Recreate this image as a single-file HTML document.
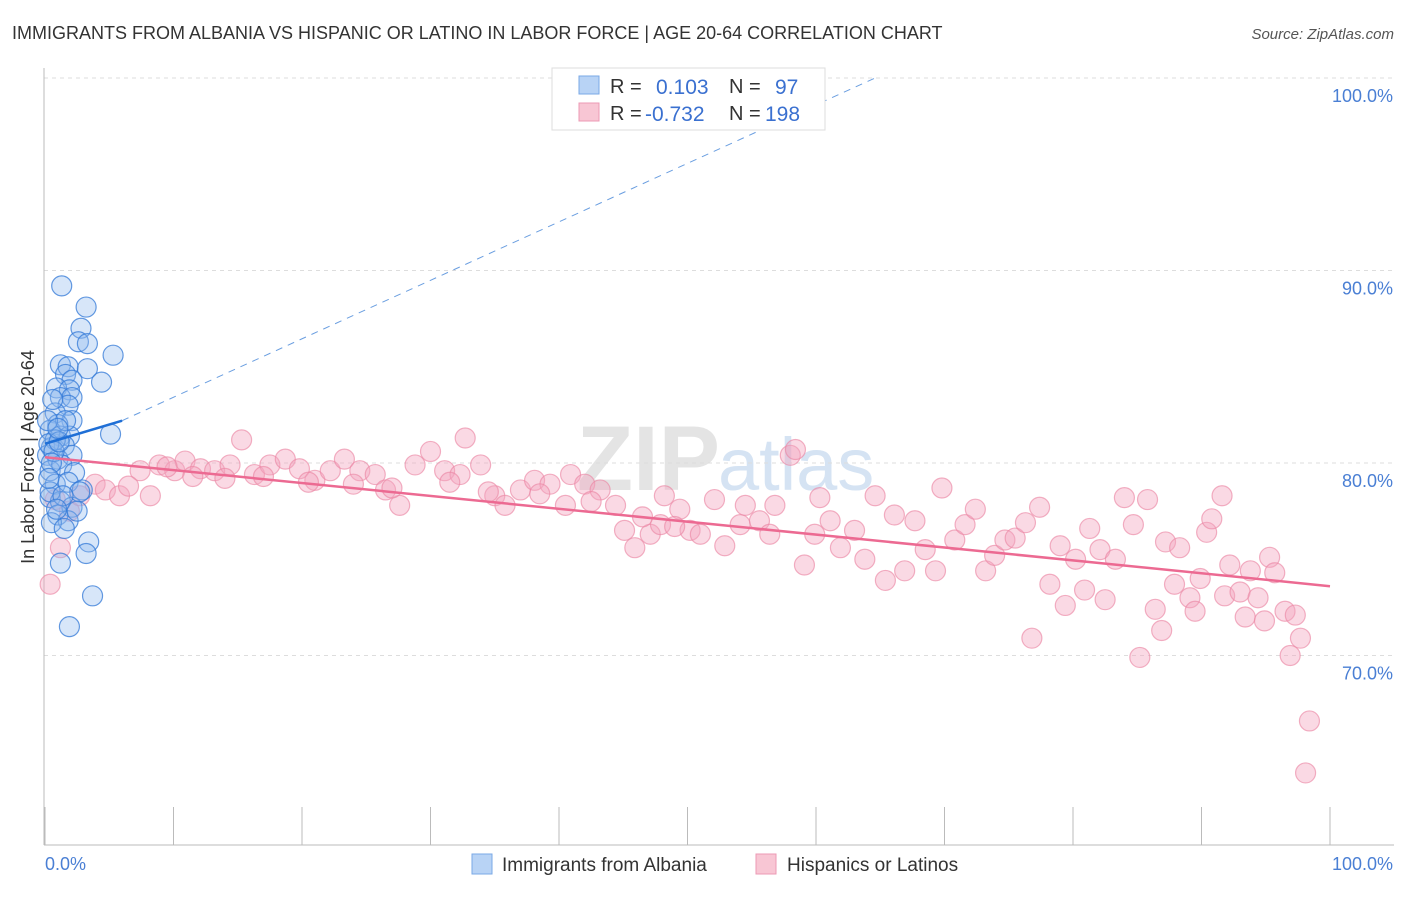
<!DOCTYPE html>
<html><head><meta charset="utf-8"><style>
body{margin:0;background:#fff;font-family:"Liberation Sans",sans-serif}
svg text{font-family:"Liberation Sans",sans-serif}
</style></head><body>
<svg id="c" width="1406" height="892">
<text x="12" y="39" font-size="18" fill="#333">IMMIGRANTS FROM ALBANIA VS HISPANIC OR LATINO IN LABOR FORCE | AGE 20-64 CORRELATION CHART</text>
<text x="1394" y="39" font-size="15" fill="#555" font-style="italic" text-anchor="end">Source: ZipAtlas.com</text>
<text x="720" y="490" font-size="92" fill="#e4e4e4" font-weight="bold" text-anchor="end" font-family="Liberation Serif">ZIP</text>
<text x="718" y="490" font-size="74" fill="#d5e3f3">atlas</text>
<g id="grid"></g><g id="axes"></g><g id="pts"></g><g id="trend"></g>
<text transform="translate(34,457) rotate(-90)" font-size="18" fill="#333" text-anchor="middle">In Labor Force | Age 20-64</text>
<text x="45" y="870" font-size="18" fill="#4a7fd4">0.0%</text>
<text x="1393" y="870" font-size="18" fill="#4a7fd4" text-anchor="end">100.0%</text>
<g>
<rect x="552" y="68" width="273" height="62" fill="#fff" stroke="#ddd"/>
<rect x="579" y="76" width="20" height="18" fill="#b8d3f5" stroke="#7aa8e6"/>
<rect x="579" y="103" width="20" height="18" fill="#f8c6d4" stroke="#ec9ab4"/>
<text x="610" y="93" font-size="20" fill="#333">R =</text><text x="656" y="94" font-size="21" fill="#3a70d0">0.103</text>
<text x="729" y="93" font-size="20" fill="#333">N =</text><text x="775" y="94" font-size="21" fill="#3a70d0">97</text>
<text x="610" y="120" font-size="20" fill="#333">R =</text><text x="645" y="121" font-size="21" fill="#3a70d0">-0.732</text>
<text x="729" y="120" font-size="20" fill="#333">N =</text><text x="765" y="121" font-size="21" fill="#3a70d0">198</text>
</g>
<g>
<rect x="472" y="854" width="20" height="20" fill="#b8d3f5" stroke="#7aa8e6"/>
<text x="502" y="871" font-size="19" fill="#333">Immigrants from Albania</text>
<rect x="756" y="854" width="20" height="20" fill="#f8c6d4" stroke="#ec9ab4"/>
<text x="787" y="871" font-size="19" fill="#333">Hispanics or Latinos</text>
</g>
</svg>
<script>
const yTicks=[100,90,80,70];
const yTickLabels=["100.0%","90.0%","80.0%","70.0%"];
const xTicks=[0,10,20,30,40,50,60,70,80,90,100];
const blueX=[1.3,3.2,2.8,2.6,3.3,5.3,1.2,1.8,3.3,4.4,1.6,2.1,0.9,1.9,1.2,2.1,1.8,0.8,2.1,1.0,5.1,0.4,1.2,1.9,0.5,1.5,0.2,1.0,2.1,0.4,1.3,2.3,0.8,1.8,2.9,0.4,1.2,2.1,1.0,1.8,0.5,1.5,3.4,1.2,3.2,3.7,1.9,0.4,2.7,0.8,1.6,0.2,0.6,0.3,0.7,1.1,0.5,1.4,0.9,0.3,2.5,1.0];
const blueY=[89.2,88.1,87.0,86.3,86.2,85.6,85.1,85.0,84.9,84.2,84.6,84.3,83.9,83.8,83.4,83.4,83.0,82.6,82.2,82.0,81.5,81.7,81.4,81.4,80.8,80.9,80.4,80.2,80.4,79.6,79.9,79.5,78.9,79.0,78.6,78.2,78.0,77.7,77.3,77.0,76.9,76.6,75.9,74.8,75.3,73.1,71.5,78.5,78.5,81.2,82.2,82.2,83.3,81.0,80.6,81.1,80.0,78.3,77.6,79.2,77.5,81.8];
const pinkX=[0.4,1.2,0.8,1.9,2.7,3.9,4.7,5.8,7.4,8.2,8.9,10.1,10.9,12.1,13.2,14.4,15.3,16.3,17.5,18.7,19.8,21.0,22.2,23.3,24.5,25.7,26.5,27.6,28.8,30.0,31.1,32.3,32.7,33.9,35.0,35.8,37.0,38.1,39.3,40.5,40.9,42.0,43.2,44.4,45.1,45.9,47.1,47.9,48.2,49.4,50.2,51.0,52.1,52.9,54.1,54.5,55.6,56.4,56.8,58.0,58.4,59.1,59.9,60.3,61.1,61.9,63.0,63.8,64.6,65.4,66.1,66.9,67.7,68.5,69.3,69.8,70.8,71.6,72.4,73.2,73.9,74.7,75.5,76.3,76.8,77.4,78.2,79.0,79.4,80.2,80.9,81.3,82.1,82.5,83.3,84.0,84.7,85.2,85.8,86.4,86.9,87.2,87.9,88.3,89.1,89.5,89.9,90.4,90.8,91.6,91.8,92.2,93.0,93.4,93.8,94.4,94.9,95.3,95.7,96.5,96.9,97.3,97.7,98.4,98.1,6.5,9.5,11.5,14.0,17.0,20.5,24.0,27.0,31.5,34.5,38.5,42.5,46.5,49.0];
const pinkY=[73.7,75.6,78.1,77.5,78.3,78.9,78.6,78.3,79.6,78.3,79.9,79.6,80.1,79.7,79.6,79.9,81.2,79.4,79.9,80.2,79.7,79.1,79.6,80.2,79.6,79.4,78.6,77.8,79.9,80.6,79.6,79.4,81.3,79.9,78.3,77.8,78.6,79.1,78.9,77.8,79.4,78.9,78.6,77.8,76.5,75.6,76.3,76.8,78.3,77.6,76.5,76.3,78.1,75.7,76.8,77.8,77.0,76.3,77.8,80.4,80.7,74.7,76.3,78.2,77.0,75.6,76.5,75.0,78.3,73.9,77.3,74.4,77.0,75.5,74.4,78.7,76.0,76.8,77.6,74.4,75.2,76.0,76.1,76.9,70.9,77.7,73.7,75.7,72.6,75.0,73.4,76.6,75.5,72.9,75.0,78.2,76.8,69.9,78.1,72.4,71.3,75.9,73.7,75.6,73.0,72.3,74.0,76.4,77.1,78.3,73.1,74.7,73.3,72.0,74.4,73.0,71.8,75.1,74.3,72.3,70.0,72.1,70.9,66.6,63.9,78.8,79.8,79.3,79.2,79.3,79.0,78.9,78.7,79.0,78.5,78.4,78.0,77.2,76.7];
const blueTrend=[0,81.0,6,82.2];
const blueDash=[6,82.2,64.6,100];
const pinkTrend=[0,80.3,100,73.6];
const X=v=>45+v*12.85, Y=v=>463-(v-80)*19.25;
const NS="http://www.w3.org/2000/svg";
function mk(t,a,p){const e=document.createElementNS(NS,t);for(const k in a)e.setAttribute(k,a[k]);document.getElementById(p).appendChild(e);return e;}
yTicks.forEach((t,i)=>{
 const g=mk('line',{x1:44,x2:1395,y1:Y(t),y2:Y(t),stroke:'#ddd','stroke-dasharray':'4,4'},'grid');
 
 
 const l=mk('text',{x:1393,y:Y(t)+24,'font-size':18,fill:'#4a7fd4','text-anchor':'end'},'grid');
 l.textContent=yTickLabels[i];
 
 
});
let ax=mk('line',{x1:44,x2:44,y1:68,y2:845,stroke:'#bbb'},'axes');


ax=mk('line',{x1:44,x2:1394,y1:845,y2:845,stroke:'#bbb'},'axes');


xTicks.forEach(t=>{const e=mk('line',{x1:X(t),x2:X(t),y1:807,y2:845,stroke:'#bbb'},'axes');
 
 });
pinkX.forEach((x,i)=>{const e=mk('circle',{cx:X(x),cy:Y(pinkY[i]),r:10,fill:'rgba(244,165,190,0.42)',stroke:'rgba(235,135,165,0.65)','stroke-width':1.2},'pts');
 
 });
blueX.forEach((x,i)=>{const e=mk('circle',{cx:X(x),cy:Y(blueY[i]),r:10,fill:'rgba(140,182,238,0.35)',stroke:'rgba(50,120,215,0.75)','stroke-width':1.2},'pts');
 
 });
let tl=mk('line',{x1:X(blueDash[0]),y1:Y(blueDash[1]),x2:X(blueDash[2]),y2:Y(blueDash[3]),stroke:'#6a9ee0','stroke-dasharray':'7,6','stroke-width':1},'trend');


tl=mk('line',{x1:X(blueTrend[0]),y1:Y(blueTrend[1]),x2:X(blueTrend[2]),y2:Y(blueTrend[3]),stroke:'#1f6fd6','stroke-width':2.5},'trend');


tl=mk('line',{x1:X(pinkTrend[0]),y1:Y(pinkTrend[1]),x2:X(pinkTrend[2]),y2:Y(pinkTrend[3]),stroke:'#ec6a92','stroke-width':2.5},'trend');


</script>
</body></html>
